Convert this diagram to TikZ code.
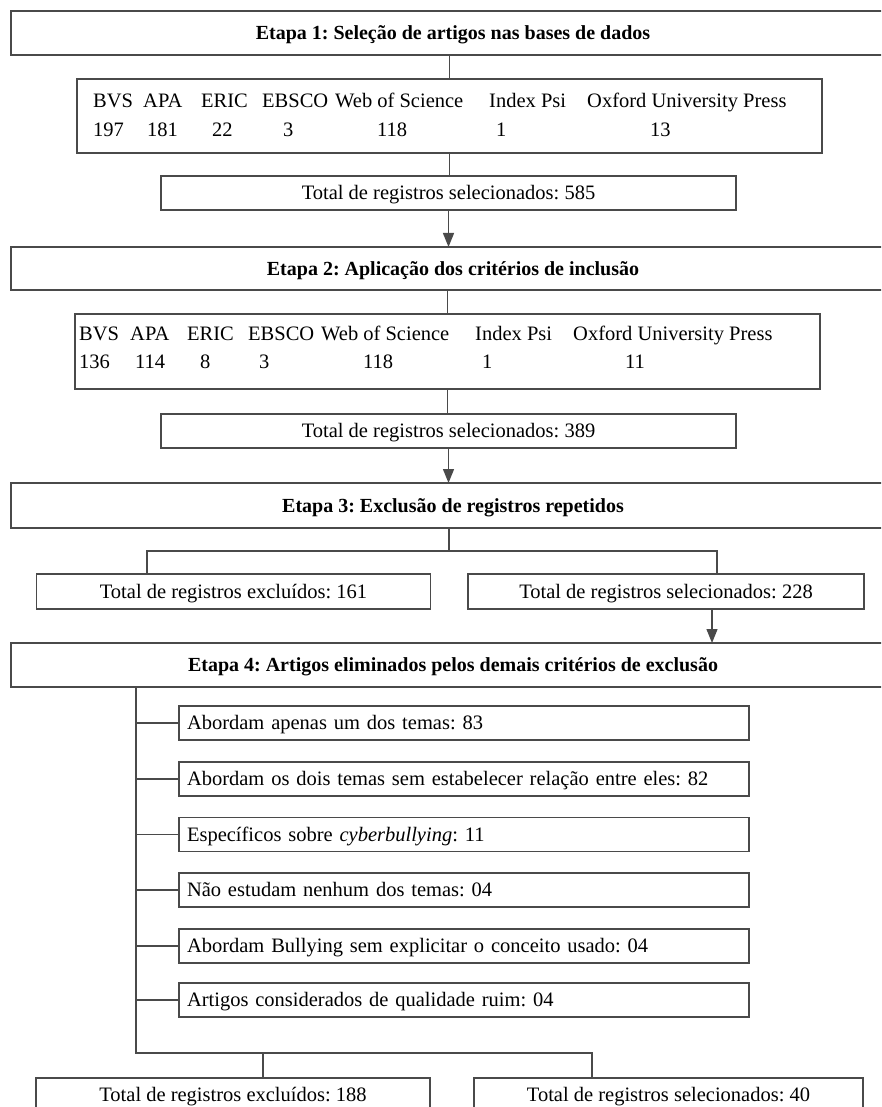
\documentclass[tikz,border=0pt]{standalone}
\usepackage{fontspec}
\setmainfont{Liberation Serif}
\usetikzlibrary{arrows.meta}
\frenchspacing
\newcommand\rfs{\fontsize{20.5}{24}\selectfont}
\newcommand\bfs{\fontsize{20}{24}\selectfont\bfseries}
\definecolor{linec}{HTML}{4A4A4A}
\tikzset{
  box/.style={draw=linec, line width=1.3pt, rectangle, inner sep=0pt, outer sep=0pt},
  stage/.style={box, minimum width=884pt, minimum height=44pt, font=\bfs, text height=13.5pt, text depth=0pt},
  tot/.style={box, font=\rfs, text height=13.5pt, text depth=0pt},
  crit/.style={box, minimum height=34pt, text width=554pt, inner xsep=8pt, align=left, font=\rfs, text height=13.5pt, text depth=0pt},
  lbl/.style={anchor=base west, inner sep=0pt, font=\rfs},
  conn/.style={draw=linec, line width=1.3pt},
  arr/.style={conn, -{Triangle[length=14pt,width=11pt]}}
}
\begin{document}
\begin{tikzpicture}[x=1pt,y=-1pt]
\path[use as bounding box] (0,0) rectangle (881,1107);
\clip (0,0) rectangle (881,1107);
% Stage 1
\node[stage] (e1) at (453,33) {Etapa 1: Seleção de artigos nas bases de dados};
\node[box, minimum width=745pt, minimum height=74pt] (db1) at (449.5,116) {};
\node[lbl] (a1) at (93,108) {BVS};
\node[lbl] (a2) at (143,108) {APA};
\node[lbl] (a3) at (201,108) {ERIC};
\node[lbl] (a4) at (262,108) {EBSCO};
\node[lbl] (a5) at (335,108) {Web of Science};
\node[lbl] (a6) at (489,108) {Index Psi};
\node[lbl] (a7) at (587,108) {Oxford University Press};
\node[lbl] (n1) at (93,137) {197};
\node[lbl] (n2) at (147,137) {181};
\node[lbl] (n3) at (212,137) {22};
\node[lbl] (n4) at (283,137) {3};
\node[lbl] (n5) at (377,137) {118};
\node[lbl] (n6) at (496,137) {1};
\node[lbl] (n7) at (650,137) {13};
\node[tot, minimum width=575pt, minimum height=34pt] (t585) at (448.5,193) {Total de registros selecionados: 585};
% Stage 2
\node[stage, minimum height=43pt] (e2) at (453,268.5) {Etapa 2: Aplicação dos critérios de inclusão};
\node[box, minimum width=745pt, minimum height=75pt] (db2) at (447.5,351.5) {};
\node[lbl] (b1) at (79,340) {BVS};
\node[lbl] (b2) at (130,340) {APA};
\node[lbl] (b3) at (187,340) {ERIC};
\node[lbl] (b4) at (248,340) {EBSCO};
\node[lbl] (b5) at (321,340) {Web of Science};
\node[lbl] (b6) at (475,340) {Index Psi};
\node[lbl] (b7) at (573,340) {Oxford University Press};
\node[lbl] (m1) at (79,368) {136};
\node[lbl] (m2) at (135,368) {114};
\node[lbl] (m3) at (200,368) {8};
\node[lbl] (m4) at (259,368) {3};
\node[lbl] (m5) at (363,368) {118};
\node[lbl] (m6) at (482,368) {1};
\node[lbl] (m7) at (625,368) {11};
\node[tot, minimum width=575pt, minimum height=34pt] (t389) at (448.5,431) {Total de registros selecionados: 389};
% Stage 3
\node[stage, minimum height=45pt] (e3) at (453,505.5) {Etapa 3: Exclusão de registros repetidos};
\node[tot, minimum width=394pt, minimum height=35pt] (t161) at (233.5,591.5) {Total de registros excluídos: 161};
\node[tot, minimum width=396pt, minimum height=35pt] (t228) at (666,591.5) {Total de registros selecionados: 228};
% Stage 4
\node[stage] (e4) at (453,665) {Etapa 4: Artigos eliminados pelos demais critérios de exclusão};
\node[crit] (s1) at (464,723) {Abordam apenas um dos temas: 83};
\node[crit] (s2) at (464,779) {Abordam os dois temas sem estabelecer relação entre eles: 82};
\node[crit] (s3) at (464,834.5) {Específicos sobre \textit{cyberbullying}: 11};
\node[crit] (s4) at (464,890) {Não estudam nenhum dos temas: 04};
\node[crit] (s5) at (464,946) {Abordam Bullying sem explicitar o conceito usado: 04};
\node[crit] (s6) at (464,1000) {Artigos considerados de qualidade ruim: 04};
\node[tot, minimum width=394pt, minimum height=34pt] (t188) at (233,1095) {Total de registros excluídos: 188};
\node[tot, minimum width=389pt, minimum height=34pt] (t40) at (668.5,1095) {Total de registros selecionados: 40};
% coordinates for connectors
\coordinate (br3) at (449,551);
\coordinate (dl) at (147,0);
\coordinate (dr) at (717,0);
\coordinate (ax) at (712,0);
\coordinate (vx) at (136,0);
\coordinate (bh) at (592,1053);
\coordinate (dx) at (263,0);
% connectors
\draw[conn] (db1.north) -- (db1.north |- e1.south);
\draw[conn] (db1.south) -- (db1.south |- t585.north);
\draw[arr] (t585.south) -- (t585.south |- e2.north);
\draw[conn] (db2.north) -- (db2.north |- e2.south);
\draw[conn] (db2.south) -- (db2.south |- t389.north);
\draw[arr] (t389.south) -- (t389.south |- e3.north);
\draw[conn] (e3.south -| br3) -- (br3);
\draw[conn] (t161.north -| dl) |- (br3) -| (t228.north -| dr);
\draw[arr] (t228.south -| ax) -- (e4.north -| ax);
\draw[conn] (e4.south -| vx) |- (bh) -- (t40.north -| bh);
\draw[conn] (t188.north -| dx) -- (bh -| dx);
\foreach \s in {s1,s2,s3,s4,s5,s6}{
  \draw[conn] (\s.west -| vx) -- (\s.west);
}
\end{tikzpicture}
\end{document}
